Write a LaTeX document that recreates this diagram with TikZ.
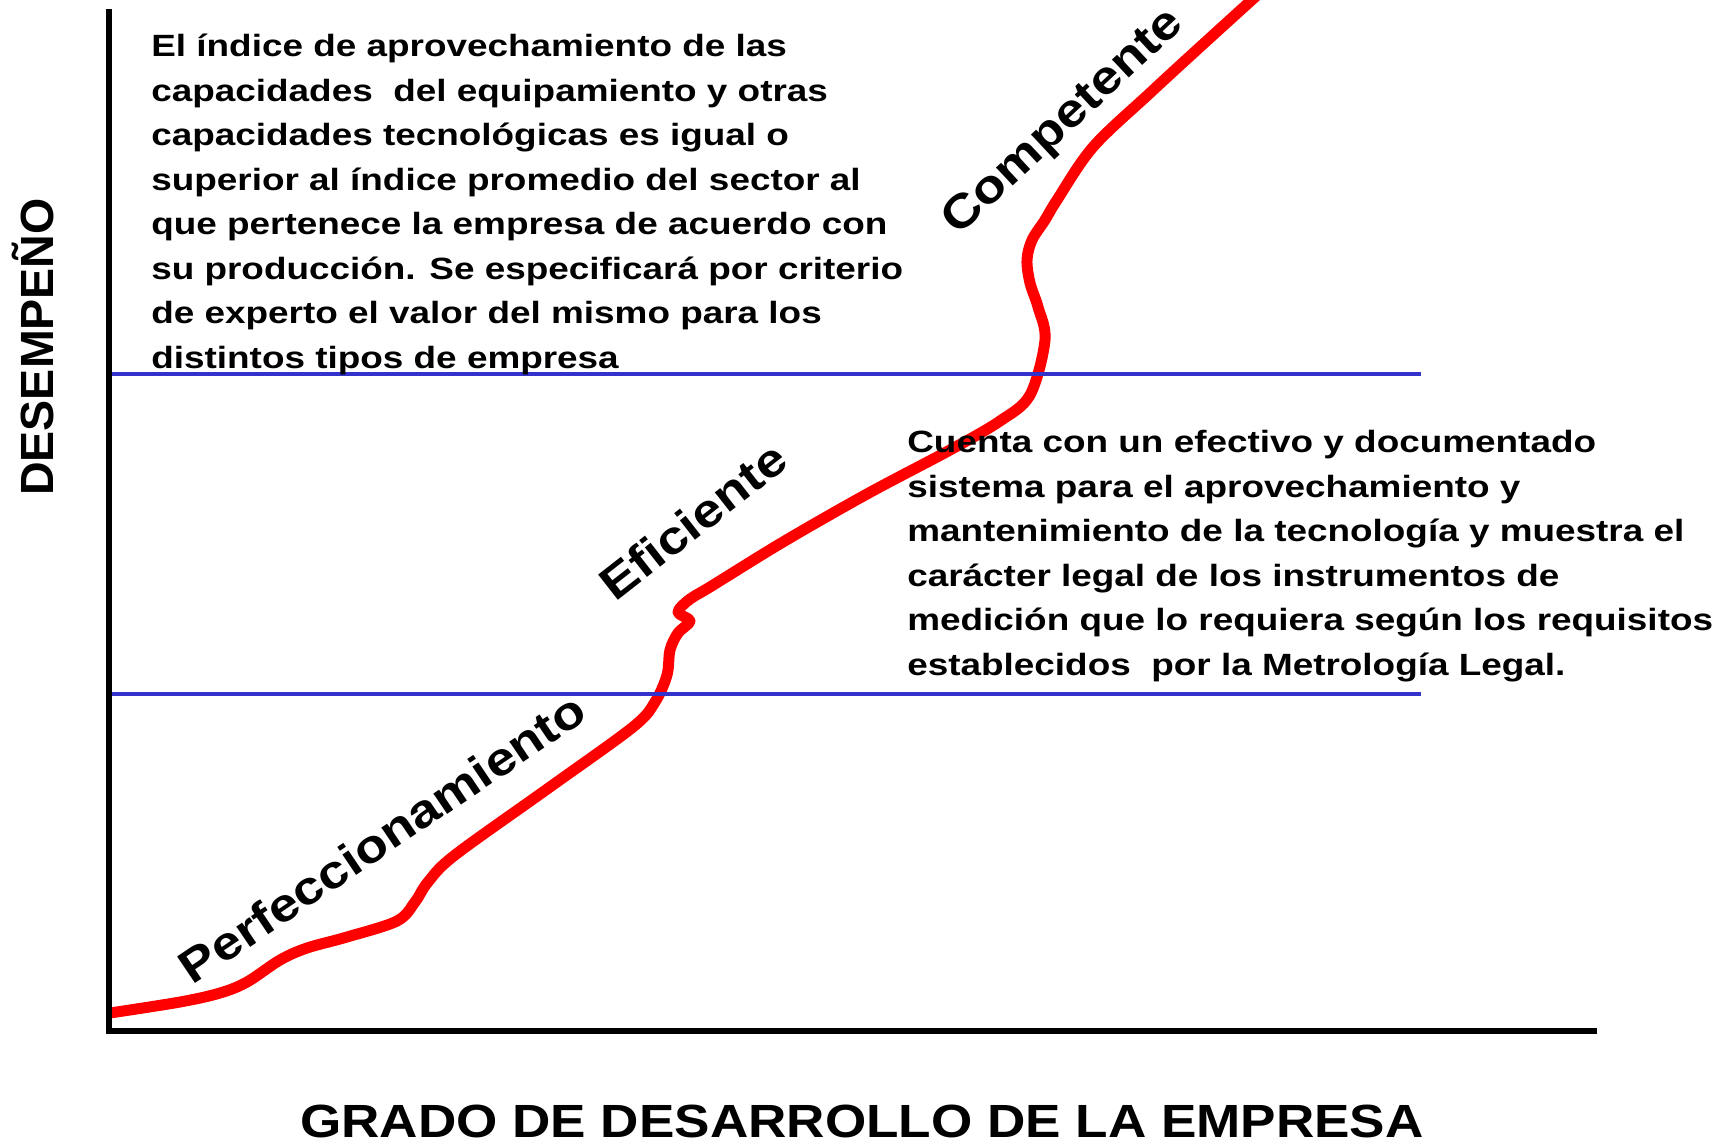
\documentclass[tikz,border=0pt]{standalone}
\usepackage{fontspec}
\setmainfont{Liberation Sans}
\newfontfamily\parafont[FakeStretch=1.2]{Liberation Sans}
\newfontfamily\rotfont[FakeStretch=1.15]{Liberation Sans}
\newfontfamily\ejefont[FakeStretch=1.14]{Liberation Sans}
\definecolor{lineablue}{RGB}{51,51,204}
\tikzset{
  parrafo/.style={anchor=base west,align=left,inner sep=0pt,
    font=\parafont\bfseries\fontsize{17.5}{25.3}\selectfont},
  etapa/.style={inner sep=0pt,font=\rotfont\bfseries\fontsize{26.5}{30}\selectfont},
}
\begin{document}
\begin{tikzpicture}[x=0.02cm,y=-0.02cm,line width=1.5pt]
\useasboundingbox (0,0) rectangle (1725,1144);
\clip (0,0) rectangle (1725,1144);
% curva de desarrollo
\draw [red,line width=0.22cm,line join=round] plot[smooth,tension=0.55] coordinates {
  (110,1013) (180,1002) (220,993) (247,982) (280,960) (307,948) (347,937)
  (397,921) (415,902) (428,882) (455,855) (550,787) (633,727)
  (655,702) (667,675) (670,650) (678,633) (690,621) (678,612) (690,599)
  (710,587) (783,542) (867,494) (950,450) (1000,421) (1030,395) (1045,340)
  (1038,307) (1030,283) (1027,260) (1032,240) (1045,220) (1057,200)
  (1093,147) (1150,93) (1200,47) (1265,-12)};
% niveles
\draw [lineablue,line width=2.2pt] (112,374) -- (1421,374);
\draw [lineablue,line width=2.2pt] (112,694) -- (1421,694);
% ejes
\draw [line width=3.4pt] (109,9) -- (109,1031) -- (1597,1031);
\node[parrafo] (textoAlto) at (150,368) {El índice de aprovechamiento de las\\
capacidades\ \ del equipamiento y otras\\
capacidades tecnológicas es igual o\\
superior al índice promedio del sector al\\
que pertenece la empresa de acuerdo con\\
su producción. Se especificará por criterio\\
de experto el valor del mismo para los\\
distintos tipos de empresa};
\node[parrafo] (textoMedio) at (906,675) {Cuenta con un efectivo y documentado\\
sistema para el aprovechamiento y\\
mantenimiento de la tecnología y muestra el\\
carácter legal de los instrumentos de\\
medición que lo requiera según los requisitos\\
establecidos\ \ por la Metrología Legal.};
\node[etapa,rotate=34] (perfecc) at (382,838) {Perfeccionamiento};
\node[etapa,rotate=38] (eficiente) at (693,521) {Eficiente};
\node[etapa,rotate=43] (competente) at (1064,123) {Competente};
\node[rotate=90,anchor=base,inner sep=0pt,font=\bfseries\fontsize{26.5}{30}\selectfont] (desempeno) at (53,347) {DESEMPEÑO};
\node[anchor=base,inner sep=0pt,font=\ejefont\bfseries\fontsize{26.5}{30}\selectfont] (grado) at (862,1137) {GRADO DE DESARROLLO DE LA EMPRESA};
\end{tikzpicture}
\end{document}
